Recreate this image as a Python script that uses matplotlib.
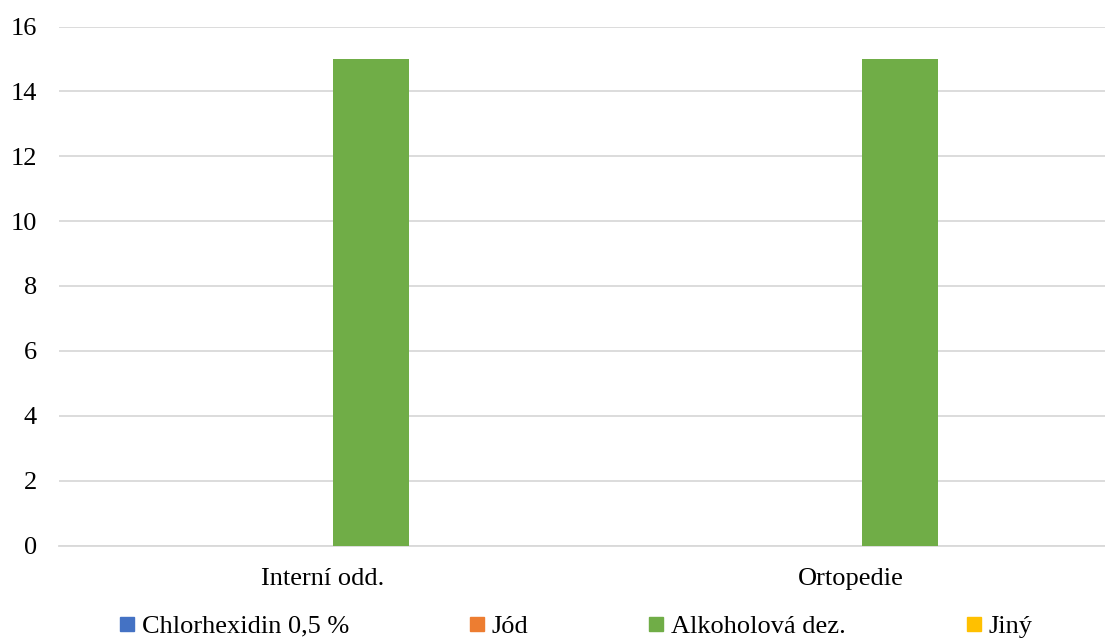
import matplotlib
matplotlib.use("Agg")
import matplotlib.pyplot as plt
from matplotlib.lines import Line2D
import numpy as np

plt.rcParams['font.family'] = ['Liberation Serif', 'DejaVu Serif']

categories = ["Interní odd.", "Ortopedie"]
series_names = ["Chlorhexidin 0,5 %", "Jód", "Alkoholová dez.", "Jiný"]
series_values = {
    "Chlorhexidin 0,5 %": [0, 0],
    "Jód": [0, 0],
    "Alkoholová dez.": [15, 15],
    "Jiný": [0, 0],
}
colors = ["#4472C4", "#ED7D31", "#70AD47", "#FFC000"]
y_ticks = [0, 2, 4, 6, 8, 10, 12, 14, 16]

fig = plt.figure(figsize=(11.05, 6.39), dpi=100)
W, H = 1105, 639
left_px, right_px = 58.5, 1115.5
top_px, bottom_px = 26.5, 545.5
ax = fig.add_axes([left_px / W, 1 - bottom_px / H,
                   (right_px - left_px) / W, (bottom_px - top_px) / H])

x = np.arange(len(categories))
bar_w = 0.1438
spacing = 0.1826
for i, (name, col) in enumerate(zip(series_names, colors)):
    off = (i - 1.5) * spacing
    ax.bar(x + off, series_values[name], width=bar_w, color=col, zorder=3)

ax.set_xlim(-0.5, 1.5)
ax.set_ylim(0, 16)
ax.set_yticks(y_ticks)
ax.set_xticks(x)
ax.set_xticklabels(categories)
ax.yaxis.grid(True, color="#D9D9D9", linewidth=1.3, zorder=0)
ax.set_axisbelow(True)
for s in ["top", "right", "left"]:
    ax.spines[s].set_visible(False)
ax.spines["bottom"].set_color("#D9D9D9")
ax.spines["bottom"].set_linewidth(1.3)
ax.tick_params(axis="y", length=0, pad=15.5, labelsize=19)
ax.tick_params(axis="x", length=0, pad=16, labelsize=19)

handles = [Line2D([0], [0], marker="s", linestyle="none", markersize=10,
                  markerfacecolor=c, markeredgecolor=c) for c in colors]
fig.legend(handles, series_names, loc="center", bbox_to_anchor=(0.5217, 1 - 626 / H),
           ncol=4, frameon=False, fontsize=19, handlelength=0.5,
           handletextpad=0.3, columnspacing=4.6, borderpad=0)

fig.savefig("out.png", dpi=100)
